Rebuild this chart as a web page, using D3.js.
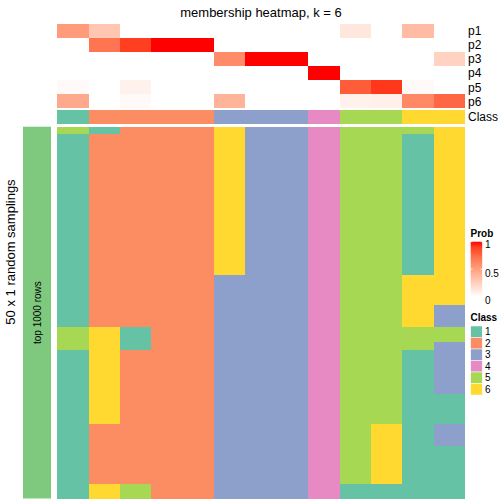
<!DOCTYPE html>
<html><head><meta charset="utf-8">
<script src="https://cdn.jsdelivr.net/npm/d3@7"></script>
<style>body{margin:0;background:#fff}svg{display:block}text{font-family:"Liberation Sans",Arial,Helvetica,sans-serif}</style>
</head><body>
<script>
// ---- data ----
const samples = d3.range(13).map(i => "s" + (i + 1));
const probRows = ["p1", "p2", "p3", "p4", "p5", "p6"];
const p1 = [0.52, 0.3, 0, 0, 0, 0, 0, 0, 0, 0.13, 0, 0.36, 0];
const p2 = [0, 0.7, 0.9, 1, 1, 0, 0, 0, 0, 0, 0, 0, 0];
const p3 = [0, 0, 0, 0, 0, 0.6, 1, 1, 0, 0, 0, 0, 0.24];
const p4 = [0, 0, 0, 0, 0, 0, 0, 0, 1, 0, 0, 0, 0];
const p5 = [0.03, 0, 0.07, 0, 0, 0, 0, 0, 0, 0.8, 0.92, 0.03, 0];
const p6 = [0.45, 0, 0.03, 0, 0, 0.4, 0, 0, 0, 0.07, 0.08, 0.61, 0.76];
const classes = [1, 2, 2, 2, 2, 3, 3, 3, 4, 5, 5, 6, 6];
const classLevels = [1, 2, 3, 4, 5, 6];
const classColors = ["#66C2A5", "#FC8D62", "#8DA0CB", "#E78AC3", "#A6D854", "#FFD92F"];
const probTicks = [0, 0.5, 1];
// 50 random samplings x 13 samples, class memberships
const membership = [
  [5,1,2,2,2,6,3,3,4,5,5,5,6],
  [1,2,2,2,2,6,3,3,4,5,5,1,6],
  [1,2,2,2,2,6,3,3,4,5,5,1,6],
  [1,2,2,2,2,6,3,3,4,5,5,1,6],
  [1,2,2,2,2,6,3,3,4,5,5,1,6],
  [1,2,2,2,2,6,3,3,4,5,5,1,6],
  [1,2,2,2,2,6,3,3,4,5,5,1,6],
  [1,2,2,2,2,6,3,3,4,5,5,1,6],
  [1,2,2,2,2,6,3,3,4,5,5,1,6],
  [1,2,2,2,2,6,3,3,4,5,5,1,6],
  [1,2,2,2,2,6,3,3,4,5,5,1,6],
  [1,2,2,2,2,6,3,3,4,5,5,1,6],
  [1,2,2,2,2,6,3,3,4,5,5,1,6],
  [1,2,2,2,2,6,3,3,4,5,5,1,6],
  [1,2,2,2,2,6,3,3,4,5,5,1,6],
  [1,2,2,2,2,6,3,3,4,5,5,1,6],
  [1,2,2,2,2,6,3,3,4,5,5,1,6],
  [1,2,2,2,2,6,3,3,4,5,5,1,6],
  [1,2,2,2,2,6,3,3,4,5,5,1,6],
  [1,2,2,2,2,6,3,3,4,5,5,1,6],
  [1,2,2,2,2,3,3,3,4,5,5,6,6],
  [1,2,2,2,2,3,3,3,4,5,5,6,6],
  [1,2,2,2,2,3,3,3,4,5,5,6,6],
  [1,2,2,2,2,3,3,3,4,5,5,6,6],
  [1,2,2,2,2,3,3,3,4,5,5,6,3],
  [1,2,2,2,2,3,3,3,4,5,5,6,3],
  [1,2,2,2,2,3,3,3,4,5,5,6,3],
  [5,6,1,2,2,3,3,3,4,5,5,5,5],
  [5,6,1,2,2,3,3,3,4,5,5,5,5],
  [5,6,1,2,2,3,3,3,4,5,5,5,3],
  [1,6,2,2,2,3,3,3,4,5,5,1,3],
  [1,6,2,2,2,3,3,3,4,5,5,1,3],
  [1,6,2,2,2,3,3,3,4,5,5,1,3],
  [1,6,2,2,2,3,3,3,4,5,5,1,3],
  [1,6,2,2,2,3,3,3,4,5,5,1,3],
  [1,6,2,2,2,3,3,3,4,5,5,1,3],
  [1,6,2,2,2,3,3,3,4,5,5,1,1],
  [1,6,2,2,2,3,3,3,4,5,5,1,1],
  [1,6,2,2,2,3,3,3,4,5,5,1,1],
  [1,6,2,2,2,3,3,3,4,5,5,1,1],
  [1,2,2,2,2,3,3,3,4,5,6,1,3],
  [1,2,2,2,2,3,3,3,4,5,6,1,3],
  [1,2,2,2,2,3,3,3,4,5,6,1,3],
  [1,2,2,2,2,3,3,3,4,5,6,1,1],
  [1,2,2,2,2,3,3,3,4,5,6,1,1],
  [1,2,2,2,2,3,3,3,4,5,6,1,1],
  [1,2,2,2,2,3,3,3,4,5,6,1,1],
  [1,2,2,2,2,3,3,3,4,5,6,1,1],
  [1,6,5,2,2,3,3,3,4,1,1,1,1],
  [1,6,5,2,2,3,3,3,4,1,1,1,1]
];

// ---- drawing ----
const W = 504, H = 504;
const svg = d3.select("body").append("svg").attr("width", W).attr("height", H);
const probMatrix = [p1, p2, p3, p4, p5, p6];

const x = d3.scaleBand().domain(d3.range(samples.length)).range([57.3, 465]);
const yP = d3.scaleBand().domain(probRows).range([24, 108.3]);
const classY = [110, 124];
const yM = d3.scaleBand().domain(d3.range(membership.length)).range([126.7, 498.5]);
const probColor = d3.scaleLinear().domain([0, 1]).range(["#ffffff", "#ff0000"]).interpolate(d3.interpolateLab);
const classColor = d3.scaleOrdinal().domain(classLevels).range(classColors);

// title
svg.append("text").attr("x", 261).attr("y", 16.5).attr("text-anchor", "middle")
  .attr("font-size", 13).text("membership heatmap, k = 6");

// prob annotation rows
probRows.forEach((r, ri) => {
  svg.append("g").attr("shape-rendering", "crispEdges").selectAll("rect").data(probMatrix[ri]).join("rect")
    .attr("x", (d, i) => x(i)).attr("y", yP(r))
    .attr("width", x.bandwidth()).attr("height", yP.bandwidth())
    .attr("fill", d => probColor(d));
  svg.append("text").attr("x", 468).attr("y", yP(r) + yP.bandwidth() / 2 + 4.3)
    .attr("font-size", 12).text(r);
});
// class annotation
svg.append("g").attr("shape-rendering", "crispEdges").selectAll("rect").data(classes).join("rect")
  .attr("x", (d, i) => x(i)).attr("y", classY[0])
  .attr("width", x.bandwidth()).attr("height", classY[1] - classY[0])
  .attr("fill", d => classColor(d));
svg.append("text").attr("x", 468).attr("y", (classY[0] + classY[1]) / 2 + 4.3)
  .attr("font-size", 12).text("Class");

// main heatmap
const cells = [];
membership.forEach((row, ri) => row.forEach((v, ci) => cells.push({ ri, ci, v })));
svg.append("g").attr("shape-rendering", "crispEdges").selectAll("rect").data(cells).join("rect")
  .attr("x", d => x(d.ci)).attr("y", d => yM(d.ri))
  .attr("width", x.bandwidth()).attr("height", yM.bandwidth())
  .attr("fill", d => classColor(d.v));

// left bar
svg.append("rect").attr("x", 23).attr("y", 126.7).attr("width", 28).attr("height", 498.5 - 126.7)
  .attr("fill", "#7FC97F");
svg.append("text").attr("transform", `translate(41,${(126.7 + 498.5) / 2}) rotate(-90)`)
  .attr("text-anchor", "middle").attr("font-size", 10).text("top 1000 rows");
svg.append("text").attr("transform", `translate(15,252) rotate(-90)`)
  .attr("text-anchor", "middle").attr("font-size", 13).text("50 x 1 random samplings");

// Prob legend
const lg = svg.append("g");
lg.append("text").attr("x", 470.5).attr("y", 236.7).attr("font-size", 10).attr("font-weight", "bold").text("Prob");
const gradTop = 241.7, gradBot = 296.7;
const defs = svg.append("defs");
const grad = defs.append("linearGradient").attr("id", "pg").attr("x1", 0).attr("y1", 1).attr("x2", 0).attr("y2", 0);
d3.range(0, 1.0001, 0.1).forEach(t => grad.append("stop").attr("offset", t).attr("stop-color", probColor(t)));
lg.append("rect").attr("x", 470.7).attr("y", gradTop).attr("width", 11.5).attr("height", gradBot - gradTop).attr("fill", "url(#pg)");
const yLeg = d3.scaleLinear().domain([0, 1]).range([gradBot, gradTop]);
probTicks.forEach(t => {
  const yy = yLeg(t);
  lg.append("line").attr("x1", 470.7).attr("x2", 472.5).attr("y1", yy).attr("y2", yy).attr("stroke", "#fff").attr("stroke-width", 0.8);
  lg.append("line").attr("x1", 480.4).attr("x2", 482.2).attr("y1", yy).attr("y2", yy).attr("stroke", "#fff").attr("stroke-width", 0.8);
});
lg.append("text").attr("x", 485).attr("y", 247.5).attr("font-size", 10).text("1");
lg.append("text").attr("x", 485).attr("y", 276.5).attr("font-size", 10).text("0.5");
lg.append("text").attr("x", 485).attr("y", 303.5).attr("font-size", 10).text("0");

// Class legend
lg.append("text").attr("x", 470.5).attr("y", 321).attr("font-size", 10).attr("font-weight", "bold").text("Class");
const boxH = 11.5, boxTop = 326;
classLevels.forEach((c, i) => {
  lg.append("rect").attr("x", 470.7).attr("y", boxTop + i * boxH).attr("width", 11.5).attr("height", boxH)
    .attr("fill", classColor(c)).attr("stroke", "#fff").attr("stroke-width", 0.5);
  lg.append("text").attr("x", 485).attr("y", boxTop + i * boxH + boxH / 2 + 3.6).attr("font-size", 10).text(c);
});
</script>
</body></html>
